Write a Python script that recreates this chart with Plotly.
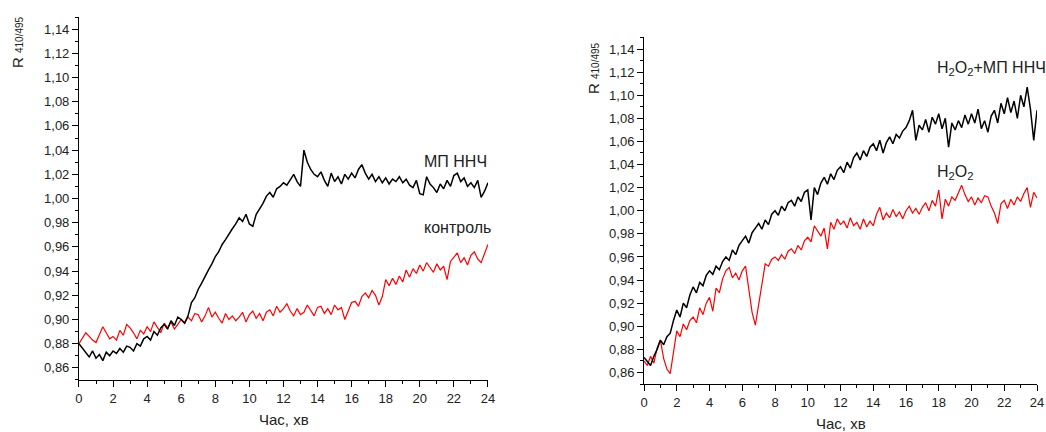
import plotly.graph_objects as go

# Time grid, min (0 .. 24 step 0.2)
time_min = [0.0, 0.2, 0.4, 0.6, 0.8, 1.0, 1.2, 1.4, 1.6, 1.8, 2.0, 2.2, 2.4, 2.6, 2.8, 3.0,
            3.2, 3.4, 3.6, 3.8, 4.0, 4.2, 4.4, 4.6, 4.8, 5.0, 5.2, 5.4, 5.6, 5.8, 6.0,
            6.2, 6.4, 6.6, 6.8, 7.0, 7.2, 7.4, 7.6, 7.8, 8.0, 8.2, 8.4, 8.6, 8.8, 9.0,
            9.2, 9.4, 9.6, 9.8, 10.0, 10.2, 10.4, 10.6, 10.8, 11.0, 11.2, 11.4, 11.6, 11.8, 12.0,
            12.2, 12.4, 12.6, 12.8, 13.0, 13.2, 13.4, 13.6, 13.8, 14.0, 14.2, 14.4, 14.6, 14.8, 15.0,
            15.2, 15.4, 15.6, 15.8, 16.0, 16.2, 16.4, 16.6, 16.8, 17.0, 17.2, 17.4, 17.6, 17.8, 18.0,
            18.2, 18.4, 18.6, 18.8, 19.0, 19.2, 19.4, 19.6, 19.8, 20.0, 20.2, 20.4, 20.6, 20.8, 21.0,
            21.2, 21.4, 21.6, 21.8, 22.0, 22.2, 22.4, 22.6, 22.8, 23.0, 23.2, 23.4, 23.6, 23.8, 24.0]

# Left panel
mp_nnch = [0.880, 0.876, 0.872, 0.869, 0.874, 0.868,
           0.871, 0.866, 0.873, 0.870, 0.874,
           0.872, 0.876, 0.873, 0.878, 0.877,
           0.874, 0.880, 0.878, 0.884, 0.886,
           0.883, 0.890, 0.887, 0.893, 0.896,
           0.892, 0.899, 0.895, 0.902, 0.900,
           0.897, 0.903, 0.914, 0.918, 0.925,
           0.930, 0.936, 0.941, 0.946, 0.952,
           0.956, 0.962, 0.966, 0.971, 0.975,
           0.979, 0.984, 0.981, 0.987, 0.979,
           0.977, 0.987, 0.991, 0.996, 1.002,
           1.005, 1.001, 1.008, 1.010, 1.013,
           1.011, 1.016, 1.020, 1.014, 1.010,
           1.040, 1.030, 1.024, 1.020, 1.018,
           1.022, 1.015, 1.010, 1.021, 1.014,
           1.018, 1.012, 1.020, 1.016, 1.021,
           1.017, 1.024, 1.028, 1.021, 1.016,
           1.020, 1.014, 1.018, 1.013, 1.017,
           1.012, 1.016, 1.014, 1.018, 1.013,
           1.016, 1.011, 1.009, 1.015, 1.004,
           1.003, 1.018, 1.012, 1.009, 1.005,
           1.012, 1.008, 1.015, 1.010, 1.019,
           1.021, 1.014, 1.017, 1.010, 1.013,
           1.009, 1.015, 1.001, 1.006, 1.013]

control = [0.880, 0.884, 0.889, 0.886, 0.883, 0.881,
           0.887, 0.894, 0.889, 0.884, 0.886,
           0.883, 0.891, 0.887, 0.896, 0.893,
           0.889, 0.884, 0.891, 0.888, 0.894,
           0.890, 0.898, 0.893, 0.889, 0.897,
           0.893, 0.898, 0.892, 0.896, 0.900,
           0.897, 0.902, 0.899, 0.905, 0.904,
           0.898, 0.903, 0.910, 0.902, 0.906,
           0.901, 0.897, 0.905, 0.900, 0.903,
           0.899, 0.902, 0.906, 0.898, 0.904,
           0.907, 0.901, 0.905, 0.899, 0.906,
           0.908, 0.903, 0.911, 0.906, 0.909,
           0.913, 0.907, 0.903, 0.909, 0.904,
           0.906, 0.912, 0.907, 0.903, 0.910,
           0.911, 0.905, 0.909, 0.904, 0.912,
           0.908, 0.910, 0.900, 0.907, 0.914,
           0.915, 0.911, 0.919, 0.922, 0.918,
           0.924, 0.920, 0.912, 0.919, 0.933,
           0.928, 0.934, 0.929, 0.936, 0.931,
           0.941, 0.935, 0.942, 0.938, 0.945,
           0.940, 0.947, 0.943, 0.939, 0.946,
           0.941, 0.944, 0.933, 0.948, 0.952,
           0.955, 0.947, 0.951, 0.945, 0.953,
           0.956, 0.950, 0.947, 0.954, 0.962]

# Right panel
h2o2_mp = [0.873, 0.869, 0.866, 0.874, 0.880, 0.888,
           0.884, 0.891, 0.894, 0.905, 0.914,
           0.908, 0.920, 0.916, 0.927, 0.934,
           0.929, 0.938, 0.935, 0.944, 0.948,
           0.945, 0.952, 0.949, 0.956, 0.960,
           0.957, 0.966, 0.962, 0.970, 0.974,
           0.978, 0.972, 0.981, 0.985, 0.989,
           0.984, 0.992, 0.988, 0.997, 1.000,
           0.996, 1.004, 1.000, 1.007, 1.009,
           1.004, 1.012, 1.008, 1.016, 1.018,
           0.992, 1.020, 1.014, 1.024, 1.029,
           1.023, 1.032, 1.027, 1.035, 1.038,
           1.033, 1.042, 1.037, 1.046, 1.050,
           1.044, 1.052, 1.047, 1.055, 1.058,
           1.052, 1.061, 1.050, 1.059, 1.064,
           1.058, 1.066, 1.063, 1.069, 1.072,
           1.078, 1.087, 1.061, 1.074, 1.070,
           1.079, 1.068, 1.081, 1.075, 1.084,
           1.071, 1.080, 1.055, 1.076, 1.070,
           1.078, 1.072, 1.083, 1.075, 1.084,
           1.076, 1.088, 1.071, 1.078, 1.068,
           1.082, 1.087, 1.076, 1.093, 1.084,
           1.098, 1.085, 1.095, 1.080, 1.100,
           1.090, 1.107, 1.088, 1.061, 1.087]

h2o2 = [0.870, 0.866, 0.874, 0.868, 0.881, 0.888,
        0.872, 0.863, 0.859, 0.879, 0.896,
        0.891, 0.902, 0.897, 0.905, 0.908,
        0.903, 0.916, 0.910, 0.920, 0.925,
        0.913, 0.933, 0.929, 0.941, 0.948,
        0.951, 0.942, 0.946, 0.940, 0.948,
        0.952, 0.934, 0.912, 0.901, 0.918,
        0.934, 0.954, 0.952, 0.958, 0.960,
        0.957, 0.962, 0.958, 0.965, 0.967,
        0.963, 0.970, 0.966, 0.974, 0.977,
        0.973, 0.987, 0.982, 0.978, 0.985,
        0.967, 0.990, 0.984, 0.993, 0.988,
        0.991, 0.985, 0.994, 0.987, 0.990,
        0.984, 0.993, 0.986, 0.991, 0.987,
        0.997, 1.003, 0.992, 0.998, 0.994,
        1.001, 0.995, 0.999, 0.993, 1.000,
        1.004, 0.998, 1.002, 0.997, 1.003,
        1.007, 1.000, 1.009, 1.004, 1.018,
        0.993, 1.010, 1.004, 1.012, 1.009,
        1.015, 1.022, 1.014, 1.008, 1.012,
        1.005, 1.011, 1.007, 1.013, 1.012,
        1.004, 0.998, 0.989, 1.006, 1.009,
        1.002, 1.010, 1.005, 1.012, 1.008,
        1.015, 1.020, 1.003, 1.016, 1.011]

FONT = "Liberation Sans, Arial, sans-serif"
TXT = "#222"

fig = go.Figure()
fig.add_trace(go.Scatter(x=time_min, y=control, mode="lines",
                         line=dict(color="#ff0000", width=1.2), xaxis="x", yaxis="y"))
fig.add_trace(go.Scatter(x=time_min, y=mp_nnch, mode="lines",
                         line=dict(color="black", width=1.5), xaxis="x", yaxis="y"))
fig.add_trace(go.Scatter(x=time_min, y=h2o2, mode="lines",
                         line=dict(color="#ff0000", width=1.2), xaxis="x2", yaxis="y2"))
fig.add_trace(go.Scatter(x=time_min, y=h2o2_mp, mode="lines",
                         line=dict(color="black", width=1.5), xaxis="x2", yaxis="y2"))

def xax(domain, anchor):
    return dict(domain=domain, anchor=anchor, range=[0, 24], dtick=2, tick0=0,
                automargin=False,
                showline=True, linecolor="black", linewidth=1, ticks="outside",
                ticklen=6, tickcolor="black", showgrid=False, zeroline=False,
                minor=dict(ticks="outside", dtick=1, ticklen=3, tickcolor="black"),
                tickfont=dict(size=13, color=TXT))

def yax(domain, anchor):
    return dict(domain=domain, anchor=anchor, range=[0.85, 1.15], dtick=0.02, tick0=0.86,
                automargin=False,
                tickformat=".2f", showline=True, linecolor="black", linewidth=1,
                ticks="outside", ticklen=6, tickcolor="black", showgrid=False,
                zeroline=False,
                minor=dict(ticks="outside", dtick=0.01, ticklen=3, tickcolor="black"),
                tickfont=dict(size=13, color=TXT))

ytitle = "R <span style='font-size:10px'>410/495</span>"

def ann(text, x, y, xref="paper", yref="paper", size=16, angle=0):
    return dict(text=text, xref=xref, yref=yref, x=x, y=y, textangle=angle,
                showarrow=False, font=dict(size=size, color=TXT),
                xanchor="center", yanchor="middle")

fig.update_layout(
    width=1046, height=432, margin=dict(l=0, r=0, t=0, b=0, autoexpand=False),
    paper_bgcolor="white", plot_bgcolor="white", showlegend=False,
    separators=", ", font=dict(family=FONT, color=TXT),
    xaxis=xax([0.0755, 0.4665], "y"),
    yaxis=yax([0.1204, 0.9606], "x"),
    xaxis2=xax([0.6157, 0.9914], "y2"),
    yaxis2=yax([0.1111, 0.9132], "x2"),
    annotations=[
        ann(ytitle, 18/1046, 1-42/432, size=15, angle=-90),
        ann(ytitle, 593/1046, 1-68/432, size=15, angle=-90),
        ann("Час, хв", 284/1046, 1-419/432, size=15),
        ann("Час, хв", 841/1046, 1-423/432, size=15),
        ann("МП ННЧ", 22.1, 1.031, "x", "y"),
        ann("контроль", 22.2, 0.976, "x", "y"),
        ann("H<sub>2</sub>O<sub>2</sub>+МП ННЧ", 21.2, 1.123, "x2", "y2"),
        ann("H<sub>2</sub>O<sub>2</sub>", 19.0, 1.033, "x2", "y2"),
    ],
)

fig.write_html("out.html", config={"displayModeBar": False},
               post_script="document.body.style.margin='0';document.body.style.overflow='hidden';")
